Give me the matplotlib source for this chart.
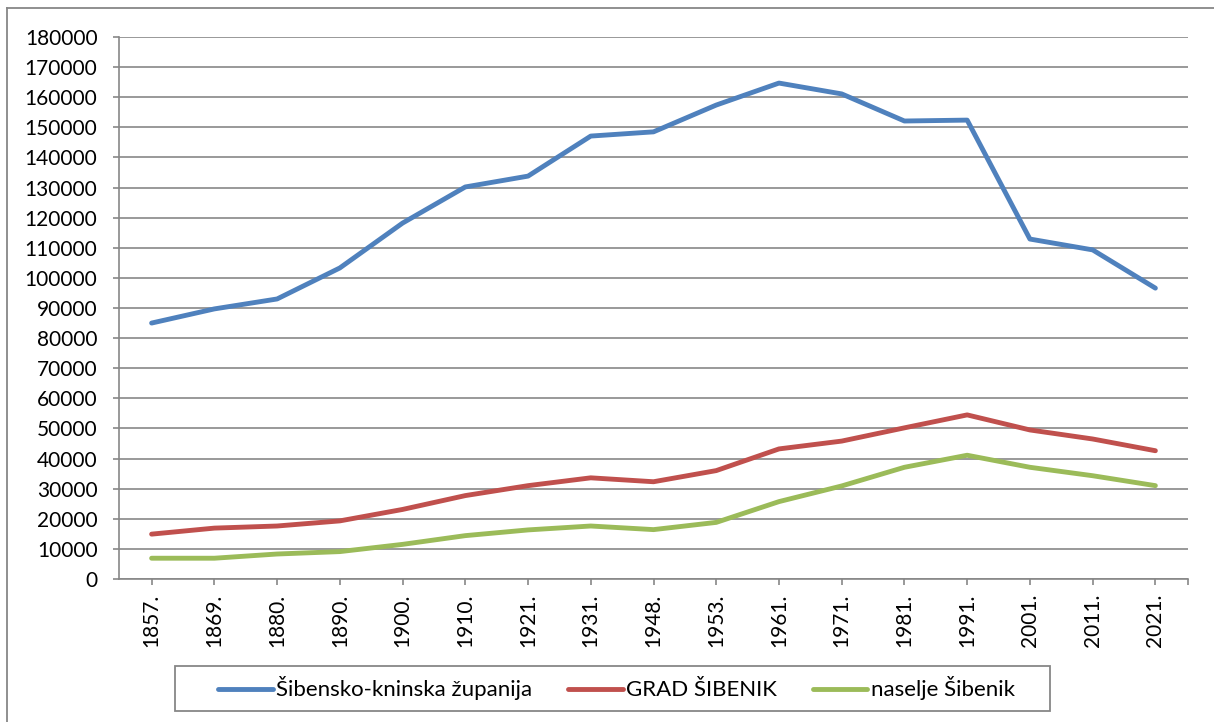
import numpy as np
import matplotlib
matplotlib.use("Agg")
import matplotlib.pyplot as plt
from matplotlib.lines import Line2D
from matplotlib.patches import Rectangle

# ──────────────────────────────────────────────────────────────────────────────
# Data
# ──────────────────────────────────────────────────────────────────────────────

years = ["1857.", "1869.", "1880.", "1890.", "1900.", "1910.", "1921.", "1931.",
         "1948.", "1953.", "1961.", "1971.", "1981.", "1991.", "2001.", "2011.", "2021."]

zupanija = [85000, 89700, 93000, 103300, 118200, 130200, 133800, 147100,
            148500, 157400, 164700, 161100, 152100, 152400, 112900, 109300, 96600]
grad = [14900, 16900, 17600, 19300, 23100, 27700, 31000, 33600,
        32300, 36000, 43200, 45800, 50200, 54500, 49500, 46500, 42600]
naselje = [6900, 6900, 8300, 9100, 11500, 14400, 16300, 17600,
           16400, 18800, 25700, 30900, 37100, 41100, 37100, 34300, 31000]

series_names = ["Šibensko-kninska županija", "GRAD ŠIBENIK", "naselje Šibenik"]
colors = ["#4F81BD", "#C0504D", "#9BBB59"]

y_ticks = list(range(0, 180001, 10000))

# ──────────────────────────────────────────────────────────────────────────────
# Figure
# ──────────────────────────────────────────────────────────────────────────────

plt.rcParams["font.family"] = ["Lato", "DejaVu Sans"]
W, H = 1214, 722
fig = plt.figure(figsize=(W / 100, H / 100), dpi=100)
ax = fig.add_axes([119 / W, 1 - 579 / H, (1188 - 119) / W, (579 - 37) / H])

grid_c = "#878787"
x = np.arange(len(years))
for vals, c in zip([zupanija, grad, naselje], colors):
    ax.plot(x, vals, color=c, lw=3.5, solid_capstyle="round", solid_joinstyle="round", zorder=3)

ax.set_xlim(-0.52, len(years) - 0.48)
ax.set_ylim(0, 180000)
ax.set_yticks(y_ticks)
ax.set_yticklabels([str(v) for v in y_ticks])
ax.set_xticks(x)
ax.set_xticklabels(years, rotation=90)
ax.set_xticks([len(years) - 0.48], minor=True)

ax.grid(axis="y", color=grid_c, lw=1.2)
ax.set_axisbelow(True)
for s in ["top", "right"]:
    ax.spines[s].set_visible(False)
for s in ["left", "bottom"]:
    ax.spines[s].set_color(grid_c)
    ax.spines[s].set_linewidth(1.2)

ax.tick_params(axis="y", length=4.5, width=1.2, color=grid_c, pad=11, labelsize=15)
ax.tick_params(axis="x", which="both", length=4.5, width=1.2, color=grid_c, pad=6, labelsize=15)

# legend: entries without frame, box drawn separately (Excel-style wide padding)
handles = [Line2D([], [], color=c, lw=3.5, solid_capstyle="round") for c in colors]
fig.legend(handles, series_names, loc="center", ncol=3,
           bbox_to_anchor=(616.5 / W, 1 - 688.5 / H),
           fontsize=16, frameon=False,
           handlelength=2.45, handletextpad=0.15, columnspacing=1.62,
           borderpad=0, borderaxespad=0)
fig.add_artist(Rectangle((175 / W, 1 - 711 / H), (1050 - 175) / W, 45 / H,
                         transform=fig.transFigure, fill=False,
                         edgecolor=grid_c, lw=1.3))

# chart-area border (only top and left visible in the reference crop)
fig.add_artist(Line2D([7 / W, 1], [1 - 8 / H, 1 - 8 / H], color=grid_c, lw=1.3))
fig.add_artist(Line2D([7 / W, 7 / W], [0, 1 - 8 / H], color=grid_c, lw=1.3))

fig.savefig("out.png", dpi=100)
